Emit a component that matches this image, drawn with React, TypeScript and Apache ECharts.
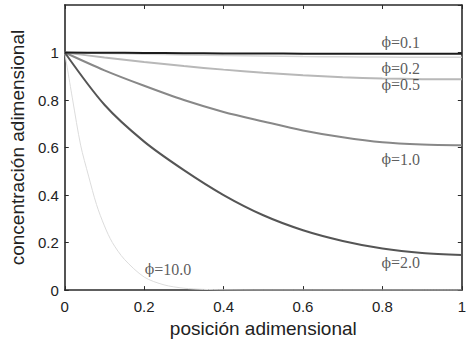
import React, { useEffect, useRef } from "react";
import * as echarts from "echarts";

const xs = [0, 0.1, 0.2, 0.3, 0.4, 0.5, 0.6, 0.7, 0.8, 0.9, 1.0];
const phi01 = [1, 0.999, 0.998, 0.997, 0.996, 0.996, 0.995, 0.995, 0.995, 0.995, 0.995];
const phi02 = [1, 0.996, 0.993, 0.99, 0.987, 0.985, 0.983, 0.982, 0.981, 0.98, 0.98];
const phi05 = [1, 0.979, 0.96, 0.943, 0.928, 0.915, 0.904, 0.896, 0.891, 0.888, 0.887];
const phi10 = [1, 0.925, 0.86, 0.8, 0.75, 0.71, 0.672, 0.643, 0.622, 0.613, 0.61];
const phi20 = [1, 0.78, 0.625, 0.505, 0.4, 0.315, 0.252, 0.207, 0.175, 0.156, 0.148];
const xs100 = [0, 0.02, 0.04, 0.06, 0.08, 0.1, 0.12, 0.15, 0.2, 0.25, 0.3, 0.35, 0.4, 0.5, 0.6, 0.7, 0.8, 0.9, 1.0];
const phi100 = [1, 0.8, 0.61, 0.48, 0.36, 0.27, 0.2, 0.13, 0.055, 0.022, 0.008, 0.003, 0.001, 0, 0, 0, 0, 0, 0];

const labelValues = ["0.1", "0.2", "0.5", "1.0", "2.0", "10.0"];
const labelX = [0.846, 0.846, 0.846, 0.846, 0.846, 0.26];
const labelY = [1.043, 0.933, 0.864, 0.55, 0.115, 0.088];

function pairs(x: number[], y: number[]) {
  return x.map((v, i) => [v, y[i]]);
}

export default function App() {
  const ref = useRef<HTMLDivElement>(null);
  useEffect(() => {
    if (!ref.current) return;
    const chart = echarts.init(ref.current, null, { renderer: "svg" });
    const axisLine = { show: true, onZero: false, lineStyle: { color: "#2a2a2a", width: 1.6 } };
    const tick = { show: true, inside: true, length: 4, lineStyle: { color: "#2a2a2a", width: 1 } };
    const lineSeries = (name: string, x: number[], y: number[], color: string, width: number) => ({
      name,
      type: "line",
      data: pairs(x, y),
      showSymbol: false,
      symbol: "none",
      smooth: 0.3,
      lineStyle: { color, width },
      z: 2,
    });
    chart.setOption({
      animation: false,
      backgroundColor: "#ffffff",
      grid: { left: 62, right: 4, top: 5, bottom: 48 },
      xAxis: [
        {
          type: "value",
          min: 0,
          max: 1,
          interval: 0.2,
          axisLine,
          axisTick: tick,
          splitLine: { show: false },
          axisLabel: { color: "#222", fontFamily: "Liberation Sans, Arial", fontSize: 15, margin: 9 },
          name: "posición adimensional",
          nameLocation: "middle",
          nameGap: 26,
          nameTextStyle: { color: "#222", fontFamily: "Liberation Sans, Arial", fontSize: 19 },
        },
        {
          type: "value",
          position: "top",
          min: 0,
          max: 1,
          interval: 0.2,
          axisLine,
          axisTick: tick,
          axisLabel: { show: false },
          splitLine: { show: false },
        },
      ],
      yAxis: [
        {
          type: "value",
          min: 0,
          max: 1.2,
          interval: 0.2,
          axisLine,
          axisTick: tick,
          splitLine: { show: false },
          axisLabel: {
            color: "#222",
            fontFamily: "Liberation Sans, Arial",
            fontSize: 15,
            margin: 6,
            showMaxLabel: false,
          },
          name: "concentración adimensional",
          nameLocation: "middle",
          nameGap: 27,
          nameTextStyle: { color: "#222", fontFamily: "Liberation Sans, Arial", fontSize: 19 },
        },
        {
          type: "value",
          position: "right",
          min: 0,
          max: 1.2,
          interval: 0.2,
          axisLine,
          axisTick: tick,
          axisLabel: { show: false },
          splitLine: { show: false },
        },
      ],
      series: [
        lineSeries("ϕ=10.0", xs100, phi100, "#dcdcdc", 1),
        lineSeries("ϕ=0.2", xs, phi02, "#d6d6d6", 1.5),
        lineSeries("ϕ=0.5", xs, phi05, "#b8b8b8", 2),
        lineSeries("ϕ=1.0", xs, phi10, "#888888", 2),
        lineSeries("ϕ=2.0", xs, phi20, "#555555", 2),
        lineSeries("ϕ=0.1", xs, phi01, "#1c1c1c", 2),
        {
          name: "labels",
          type: "scatter",
          symbol: "circle",
          symbolSize: 1,
          itemStyle: { color: "rgba(0,0,0,0)" },
          data: labelValues.map((t, i) => [labelX[i], labelY[i], t]),
          label: {
            show: true,
            position: "inside",
            formatter: (p: any) => "{p|ϕ}{t|=" + p.value[2] + "}",
            textBorderWidth: 0,
            rich: {
              p: {
                color: "#333333",
                fontFamily: "DejaVu Serif",
                fontSize: 14,
              },
              t: {
                color: "#333333",
                fontFamily: "Liberation Serif",
                fontSize: 16,
              },
            },
          },
          z: 5,
        },
      ],
    });
    return () => chart.dispose();
  }, []);
  return (
    <div
      ref={ref}
      style={{ position: "fixed", left: 0, top: 0, width: 469, height: 343 }}
    />
  );
}
